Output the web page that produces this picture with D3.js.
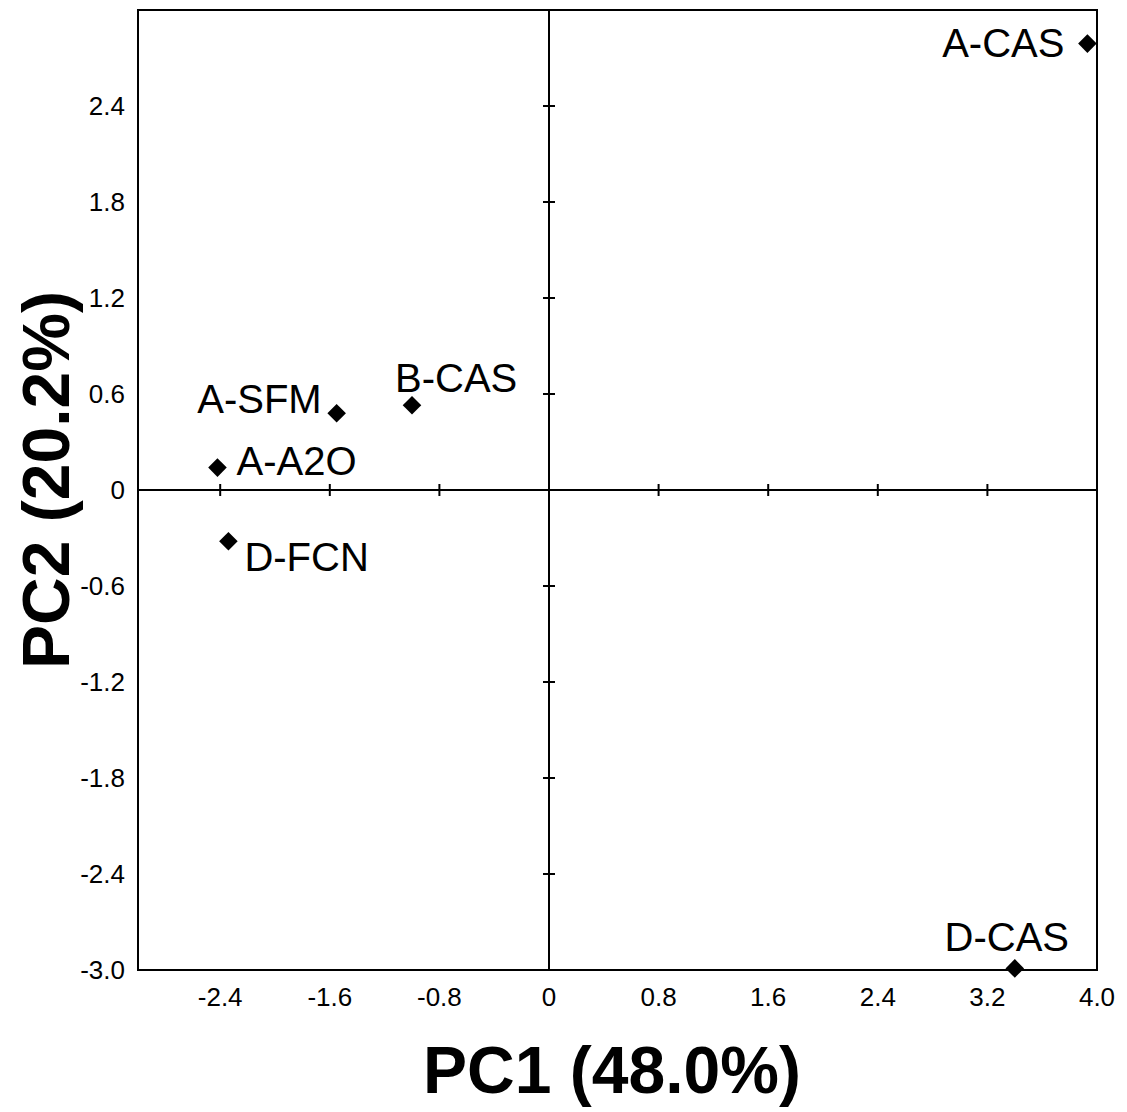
<!doctype html>
<html lang="en">
<head>
  <meta charset="utf-8">
  <title>PCA scores</title>
  <style>
    body { margin: 0; background: #fff; }
    svg { display: block; font-family: "Liberation Sans", Arial, sans-serif; }
    .frame { fill: none; stroke: #000; stroke-width: 2; }
    .zero { stroke: #000; stroke-width: 2; }
    .tick-mark { stroke: #000; stroke-width: 2; }
    .tick-label { font-size: 26px; fill: #000; }
    .pt-label { font-size: 40px; fill: #000; }
    .axis-title { font-size: 66px; font-weight: bold; fill: #000; }
  </style>
</head>
<body>
  <script src="https://d3js.org/d3.v7.min.js" charset="utf-8"></script>
  <script>
(function() {

// sample names and PCA scores
var samples = ["A-CAS", "D-CAS", "B-CAS", "A-SFM", "A-A2O", "D-FCN"];
var pc1 = [3.93, 3.40, -1.00, -1.55, -2.42, -2.34];
var pc2 = [2.79, -2.99, 0.53, 0.48, 0.14, -0.32];

var xTicks = [-2.4, -1.6, -0.8, 0, 0.8, 1.6, 2.4, 3.2, 4.0];
var xTickLabels = ["-2.4", "-1.6", "-0.8", "0", "0.8", "1.6", "2.4", "3.2", "4.0"];
var yTicks = [-3.0, -2.4, -1.8, -1.2, -0.6, 0, 0.6, 1.2, 1.8, 2.4];
var yTickLabels = ["-3.0", "-2.4", "-1.8", "-1.2", "-0.6", "0", "0.6", "1.2", "1.8", "2.4"];

var xTitle = "PC1 (48.0%)";
var yTitle = "PC2 (20.2%)";

// where each name sits next to its marker
var labelPlace = {
  "A-CAS": { anchor: "end",    dx: -23, dy: 13 },
  "D-CAS": { anchor: "middle", dx: -8,  dy: -17 },
  "B-CAS": { anchor: "start",  dx: -17, dy: -13 },
  "A-SFM": { anchor: "end",    dx: -15, dy: 0 },
  "A-A2O": { anchor: "start",  dx: 19,  dy: 7 },
  "D-FCN": { anchor: "start",  dx: 16,  dy: 30 }
};

var W = 1127, H = 1112;
var left = 138, right = 1097, top = 10, bottom = 970;

var x = d3.scaleLinear().domain([-3, 4]).range([left, right]);
var y = d3.scaleLinear().domain([-3, 3]).range([bottom, top]);

var svg = d3.select("body").append("svg")
    .attr("width", W)
    .attr("height", H);

// zero lines
svg.append("line").attr("class", "zero")
    .attr("x1", left).attr("x2", right)
    .attr("y1", y(0)).attr("y2", y(0));
svg.append("line").attr("class", "zero")
    .attr("x1", x(0)).attr("x2", x(0))
    .attr("y1", top).attr("y2", bottom);

// tick marks crossing the zero lines
svg.selectAll(".xmark")
    .data(xTicks.filter(function(d) { return d !== 0 && d < 4; }))
  .enter().append("line")
    .attr("class", "tick-mark")
    .attr("x1", function(d) { return x(d); })
    .attr("x2", function(d) { return x(d); })
    .attr("y1", y(0) - 6).attr("y2", y(0) + 6);

svg.selectAll(".ymark")
    .data(yTicks.filter(function(d) { return d !== 0 && d > -3; }))
  .enter().append("line")
    .attr("class", "tick-mark")
    .attr("y1", function(d) { return y(d); })
    .attr("y2", function(d) { return y(d); })
    .attr("x1", x(0) - 6).attr("x2", x(0) + 6);

// frame
svg.append("rect").attr("class", "frame")
    .attr("x", left).attr("y", top)
    .attr("width", right - left).attr("height", bottom - top);

// tick labels
svg.selectAll(".xlab")
    .data(xTicks)
  .enter().append("text")
    .attr("class", "tick-label")
    .attr("text-anchor", "middle")
    .attr("x", function(d) { return x(d); })
    .attr("y", bottom + 36)
    .text(function(d, i) { return xTickLabels[i]; });

svg.selectAll(".ylab")
    .data(yTicks)
  .enter().append("text")
    .attr("class", "tick-label")
    .attr("text-anchor", "end")
    .attr("x", left - 13)
    .attr("y", function(d) { return y(d) + 9; })
    .text(function(d, i) { return yTickLabels[i]; });

// markers
var diamond = d3.symbol().type(d3.symbolDiamond2).size(220);

svg.selectAll(".pt")
    .data(samples)
  .enter().append("path")
    .attr("d", diamond)
    .attr("fill", "#000")
    .attr("transform", function(d, i) {
      return "translate(" + x(pc1[i]) + "," + y(pc2[i]) + ")";
    });

svg.selectAll(".ptlab")
    .data(samples)
  .enter().append("text")
    .attr("class", "pt-label")
    .attr("text-anchor", function(d) { return labelPlace[d].anchor; })
    .attr("x", function(d, i) { return x(pc1[i]) + labelPlace[d].dx; })
    .attr("y", function(d, i) { return y(pc2[i]) + labelPlace[d].dy; })
    .text(function(d) { return d; });

// axis titles
svg.append("text").attr("class", "axis-title")
    .attr("text-anchor", "middle")
    .attr("x", 612).attr("y", 1093)
    .text(xTitle);

svg.append("text").attr("class", "axis-title")
    .attr("text-anchor", "middle")
    .attr("transform", "translate(69,480) rotate(-90)")
    .text(yTitle);

})();
  </script>
</body>
</html>
